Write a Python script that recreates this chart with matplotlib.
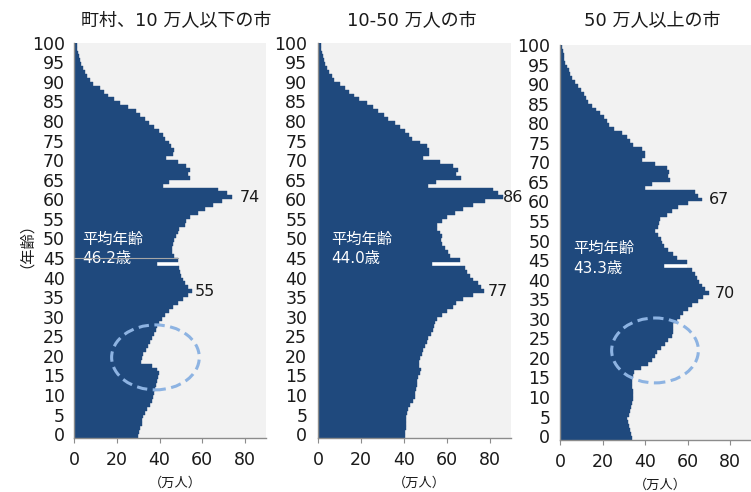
import numpy as np
import matplotlib
matplotlib.use("Agg")
import matplotlib.pyplot as plt
from matplotlib.patches import Ellipse

plt.rcParams["font.family"] = ["DejaVu Sans", "Noto Sans CJK JP"]

# Population by single year of age (0..100), unit: 10,000 persons
ages = np.arange(0, 101)

pop_towns = [
    30.0, 30.4, 30.8, 31.6, 32.0, 32.4, 33.2, 34.0, 35.5, 36.3,
    37.0, 37.4, 37.9, 38.3, 38.6, 39.4, 39.9, 39.0, 36.3, 31.3,
    31.6, 32.4, 33.5, 34.4, 35.5, 36.6, 37.4, 38.3, 38.9, 39.9,
    41.0, 42.5, 44.5, 46.4, 48.8, 51.0, 53.4, 55.0, 53.4, 51.9,
    50.8, 50.0, 49.5, 49.2, 39.0, 48.8, 46.8, 46.0, 45.8, 46.2,
    47.0, 47.8, 48.5, 49.0, 51.9, 52.6, 54.2, 58.1, 61.2, 65.1,
    69.0, 74.0, 71.5, 67.5, 41.8, 44.6, 54.2, 53.4, 54.2, 52.6,
    48.7, 43.0, 46.5, 46.8, 45.5, 44.5, 42.6, 41.5, 39.9, 37.4,
    35.2, 33.2, 30.9, 29.0, 25.4, 21.5, 18.7, 16.1, 14.0, 12.2,
    8.7, 7.5, 6.2, 5.0, 4.0, 3.4, 3.0, 2.5, 1.9, 1.5,
    1.5,
]

pop_mid_cities = [
    40.4, 40.5, 40.8, 41.0, 41.1, 41.1, 41.5, 42.0, 42.7, 44.3,
    45.0, 45.3, 45.5, 45.8, 46.1, 46.6, 47.2, 47.7, 47.0, 47.0,
    47.4, 48.1, 48.9, 49.5, 50.5, 51.2, 52.5, 53.3, 54.0, 54.5,
    55.5, 57.5, 59.8, 62.9, 64.4, 67.5, 72.0, 77.0, 76.0, 74.5,
    72.2, 70.6, 69.1, 68.3, 53.0, 66.0, 61.3, 60.6, 59.0, 57.5,
    57.0, 57.5, 56.7, 55.1, 55.1, 57.5, 59.8, 63.7, 67.5, 72.2,
    77.6, 86.0, 83.9, 81.5, 50.9, 54.8, 66.3, 64.4, 65.2, 62.9,
    56.7, 48.9, 51.7, 51.5, 50.5, 47.4, 43.9, 42.4, 40.4, 38.0,
    35.7, 32.6, 30.6, 28.0, 25.6, 22.5, 19.1, 16.6, 14.4, 12.4,
    10.0, 7.3, 6.2, 5.1, 4.2, 3.3, 2.6, 2.0, 1.6, 1.2,
    1.1,
]

pop_large_cities = [
    33.7, 33.3, 32.9, 32.5, 32.2, 31.7, 32.3, 32.8, 33.5, 33.8,
    34.2, 34.5, 34.3, 34.0, 33.8, 33.7, 34.5, 35.0, 38.0, 41.6,
    43.5, 44.5, 45.5, 47.5, 49.4, 51.0, 52.5, 53.0, 53.0, 53.3,
    55.0, 56.5, 58.0, 60.4, 62.0, 65.1, 67.5, 70.0, 68.2, 66.7,
    65.5, 64.5, 63.5, 62.0, 49.0, 59.6, 55.0, 53.3, 51.0, 49.0,
    48.0, 47.5, 46.0, 44.5, 46.3, 46.5, 47.0, 50.2, 52.5, 55.7,
    60.4, 67.0, 65.0, 63.5, 40.0, 43.1, 51.8, 51.0, 51.5, 50.2,
    44.7, 38.4, 40.2, 40.0, 38.4, 34.5, 33.0, 31.5, 29.0, 25.4,
    23.2, 22.0, 20.5, 18.8, 16.9, 14.9, 13.3, 12.3, 11.2, 9.7,
    8.6, 7.1, 5.5, 4.8, 4.0, 3.1, 2.5, 2.1, 1.7, 1.3,
    0.8,
]

titles = ["町村、10 万人以下の市", "10-50 万人の市", "50 万人以上の市"]
mean_ages = [46.2, 44.0, 43.3]
peak_ages = [61, 37]          # ages whose values are labelled
dip_age = 44                  # 1966 birth cohort
x_ticks = [0, 20, 40, 60, 80]
y_ticks = list(range(0, 101, 5))

BAR = "#1f497d"
BG = "#f2f2f2"
AXIS = "#8c8c8c"
RING = "#8db3e2"
INK = "#1a1a1a"

fig = plt.figure(figsize=(7.51, 4.92), dpi=100)
W, H = 751, 492

# axes boxes in pixels: left, top, width, height
boxes = [(74, 42.7, 192.4, 395.3), (318.3, 42.7, 193.1, 395.3), (560, 45, 191.3, 395.0)]
ytick_pads = [6.5, 8.0, 7.0]
title_x = [176, 412, 652]
peak_offsets = [[5.5, 2.5], [0.0, 3.0], [4.5, 4.5]]
note_pos = [(4.0, 49.6, 44.9), (6.2, 49.6, 44.9), (6.1, 48.1, 42.9)]
rings = [(38.1, 19.6, 41.0, 16.6), None, (44.7, 21.9, 40.8, 16.6)]

series = [pop_towns, pop_mid_cities, pop_large_cities]
axes = []
for i, vals in enumerate(series):
    l, t, w, h = boxes[i]
    ax = fig.add_axes([l / W, 1 - (t + h) / H, w / W, h / H])
    axes.append(ax)
    vals = np.asarray(vals)
    ax.set_facecolor(BG)

    # white strip behind the 1966 cohort notch
    gap_w = min(vals[dip_age - 1], vals[dip_age + 1])
    ax.barh(dip_age - 0.5, gap_w, height=1.0, color="white", linewidth=0)
    ax.barh(ages - 0.5, vals, height=1.0, color=BAR, linewidth=0.3,
            edgecolor=BAR)

    ax.set_xlim(0, 90)
    ax.set_ylim(-1, 100)
    ax.set_xticks(x_ticks)
    ax.set_yticks(y_ticks)
    ax.tick_params(axis="y", length=0, pad=ytick_pads[i], labelsize=12.5,
                   labelcolor=INK)
    ax.tick_params(axis="x", length=3.5, width=0.8, color=AXIS, pad=6,
                   labelsize=12.5, labelcolor=INK)
    for s in ("top", "right"):
        ax.spines[s].set_visible(False)
    for s in ("left", "bottom"):
        ax.spines[s].set_color(AXIS)
        ax.spines[s].set_linewidth(1.0)

    # peak labels
    for a, off in zip(peak_ages, peak_offsets[i]):
        ax.annotate(f"{vals[a]:.0f}", xy=(vals[a], a - 0.5),
                    xytext=(off, 0), textcoords="offset points",
                    ha="left", va="center", fontsize=11.5, color=INK,
                    annotation_clip=False)

    # mean age note
    nx, ny1, ny2 = note_pos[i]
    ax.text(nx, ny1, "平均年齢", color="white", fontsize=11, ha="left",
            va="center")
    ax.text(nx, ny2, f"{mean_ages[i]:.1f}歳", color="white", fontsize=11,
            ha="left", va="center")

    # dashed ring around the late-teen / twenties section
    if rings[i] is not None:
        cx, cy, ew, eh = rings[i]
        ax.add_patch(Ellipse((cx, cy), ew, eh, fill=False, ec=RING, lw=2.2,
                             ls=(0, (3.4, 1.8)), clip_on=False, zorder=5))

    ax.text(0.525, -0.114, "（万人）", transform=ax.transAxes, ha="center",
            va="center", fontsize=9.5, color=INK)

    fig.text(title_x[i] / W, 1 - 20 / H, titles[i], ha="center", va="center",
             fontsize=13, color=INK)

# thin guide line through the average-age row of the first panel
axes[0].plot([0, pop_towns[45]], [45, 45], color="#a6a6a6", lw=0.8,
             zorder=3)

fig.text(18 / W, 1 - 238 / H, "（年齢）", rotation=90, ha="center",
         va="center", fontsize=11, color=INK)

fig.savefig("out.png", dpi=100)
